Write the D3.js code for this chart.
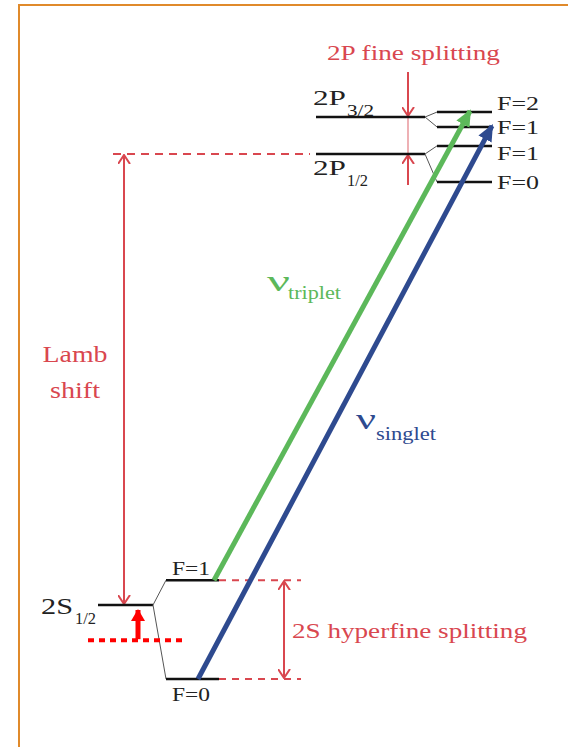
<!DOCTYPE html>
<html>
<head>
<meta charset="UTF-8">
<title>Hydrogen 2S-2P level scheme</title>
<script src="https://d3js.org/d3.v7.min.js"></script>
<style>
  body { margin: 0; background: #fff; }
  svg { display: block; }
  text { font-family: "Liberation Serif", "DejaVu Serif", serif; }
</style>
</head>
<body>
<svg width="568" height="747"></svg>
<script>
// fine-structure levels (energy in diagram units, Lamb shift = 100)
const fineNames = ["2S", "2P", "2P"];
const fineSubs = ["1/2", "1/2", "3/2"];
const fineEnergy = [0, 100, 108.2];

// hyperfine sublevels: parent index, F, energy
const hfParent = [0, 0, 1, 1, 2, 2];
const hfF = [1, 0, 1, 0, 2, 1];
const hfEnergy = [5.5, -16.4, 101.8, 93.8, 109.3, 106.0];

// laser transitions (from hf index -> to hf index)
const transNames = ["triplet", "singlet"];
const transFrom = [0, 1];
const transTo = [4, 5];
const transColor = ["#5cb85a", "#2e4a8f"];

// laser line under 2S1/2
const probeEnergy = -7.8;

const red = "#d9474f";
const svg = d3.select("svg");

const y = d3.scaleLinear().domain([0, 100]).range([605, 154]);

// column spans for S and P manifolds
const fineX = d3.scaleOrdinal().domain(["S", "P"]).range([[98, 153], [316, 425]]);
const hfX = d3.scaleOrdinal().domain(["S", "P"]).range([[166, 219], [437, 492]]);
const side = i => (fineNames[i] === "2S" ? "S" : "P");

// markers
const defs = svg.append("defs");
defs.append("marker").attr("id", "chev")
  .attr("viewBox", "0 -6 10 12").attr("refX", 9).attr("refY", 0)
  .attr("markerUnits", "userSpaceOnUse").attr("markerWidth", 10).attr("markerHeight", 13)
  .attr("orient", "auto-start-reverse")
  .append("path").attr("d", "M0,-6 L9,0 L0,6").attr("fill", "none")
  .attr("stroke", red).attr("stroke-width", 2);
transColor.forEach((c, i) => {
  defs.append("marker").attr("id", "tri" + i)
    .attr("viewBox", "0 -7 16 14").attr("refX", 14).attr("refY", 0)
    .attr("markerUnits", "userSpaceOnUse").attr("markerWidth", 17).attr("markerHeight", 15)
    .attr("orient", "auto")
    .append("path").attr("d", "M0,-7 L16,0 L0,7 Z").attr("fill", c);
});
defs.append("marker").attr("id", "redtri")
  .attr("viewBox", "0 -7 12 14").attr("refX", 11).attr("refY", 0)
  .attr("markerUnits", "userSpaceOnUse").attr("markerWidth", 12).attr("markerHeight", 14)
  .attr("orient", "auto")
  .append("path").attr("d", "M0,-7 L12,0 L0,7 Z").attr("fill", "#ff0000");

// orange frame
svg.append("path").attr("d", "M19,747 L19,5 L568,5")
  .attr("fill", "none").attr("stroke", "#e08a2b").attr("stroke-width", 2);

function txt(x, yy, s, size, len, color, anchor) {
  const t = svg.append("text").attr("x", x).attr("y", yy).text(s)
    .attr("font-size", size).attr("fill", color || "#222")
    .attr("text-anchor", anchor || "start");
  if (len) t.attr("textLength", len).attr("lengthAdjust", "spacingAndGlyphs");
  return t;
}

// Lamb shift dashed reference + arrow
svg.append("line").attr("x1", 113).attr("x2", 310).attr("y1", y(100)).attr("y2", y(100))
  .attr("stroke", red).attr("stroke-width", 2).attr("stroke-dasharray", "8,6");
svg.append("line").attr("x1", 124).attr("x2", 124).attr("y1", y(100) + 1).attr("y2", y(0) - 1)
  .attr("stroke", red).attr("stroke-width", 2)
  .attr("marker-start", "url(#chev)").attr("marker-end", "url(#chev)");
txt(75, 362, "Lamb", 23, 65, red, "middle");
txt(75, 398, "shift", 23, 50, red, "middle");

// 2P fine splitting arrows
const fx = 408;
svg.append("line").attr("x1", fx).attr("x2", fx).attr("y1", y(108.2) - 1).attr("y2", y(100) + 1)
  .attr("stroke", red).attr("stroke-width", 1.2).attr("opacity", 0.7);
svg.append("line").attr("x1", fx).attr("x2", fx).attr("y1", 72).attr("y2", y(108.2) - 1)
  .attr("stroke", red).attr("stroke-width", 2).attr("marker-end", "url(#chev)");
svg.append("line").attr("x1", fx).attr("x2", fx).attr("y1", 185).attr("y2", y(100) + 1)
  .attr("stroke", red).attr("stroke-width", 2).attr("marker-end", "url(#chev)");
txt(327, 60, "2P fine splitting", 21, 173, red);

// 2S hyperfine dashed lines + arrow
[5.5, -16.4].forEach(e => {
  svg.append("line").attr("x1", 219).attr("x2", 301).attr("y1", y(e)).attr("y2", y(e))
    .attr("stroke", red).attr("stroke-width", 2).attr("stroke-dasharray", "7,6");
});
svg.append("line").attr("x1", 284).attr("x2", 284).attr("y1", y(5.5) + 1).attr("y2", y(-16.4) - 1)
  .attr("stroke", red).attr("stroke-width", 2)
  .attr("marker-start", "url(#chev)").attr("marker-end", "url(#chev)");
txt(292, 638, "2S hyperfine splitting", 21, 235, red);

// fine levels
fineEnergy.forEach((e, i) => {
  const [x0, x1] = fineX(side(i));
  svg.append("line").attr("x1", x0).attr("x2", x1).attr("y1", y(e)).attr("y2", y(e))
    .attr("stroke", "#111").attr("stroke-width", 2.5);
});

// hyperfine levels + connectors
hfEnergy.forEach((e, i) => {
  const p = hfParent[i];
  const s = side(p);
  const [, fx1] = fineX(s);
  const [x0, x1] = hfX(s);
  svg.append("line").attr("x1", fx1).attr("y1", y(fineEnergy[p]))
    .attr("x2", x0).attr("y2", y(e)).attr("stroke", "#555").attr("stroke-width", 1);
  svg.append("line").attr("x1", x0).attr("x2", x1).attr("y1", y(e)).attr("y2", y(e))
    .attr("stroke", "#111").attr("stroke-width", 2.5);
});

// fine level labels
txt(313, 105, fineNames[2], 21, 33);
txt(347, 116, fineSubs[2], 16, 27);
txt(313, 175, fineNames[1], 21, 33);
txt(347, 186, fineSubs[1], 16, 21);
txt(41, 614, fineNames[0], 23, 32);
txt(75, 624, fineSubs[0], 16, 21);

// F labels
const fLabelPos = [[172, 575], [172, 701], [497, 160], [497, 189], [497, 110], [497, 134]];
hfF.forEach((f, i) => {
  txt(fLabelPos[i][0], fLabelPos[i][1], "F=" + f, 19, i < 2 ? 38 : 42);
});

// laser probe (dotted) + small arrow
svg.append("line").attr("x1", 88).attr("x2", 184).attr("y1", y(probeEnergy)).attr("y2", y(probeEnergy))
  .attr("stroke", "#ff0000").attr("stroke-width", 4).attr("stroke-dasharray", "6,5");
svg.append("line").attr("x1", 138).attr("x2", 138).attr("y1", y(probeEnergy) - 1).attr("y2", 610)
  .attr("stroke", "#ff0000").attr("stroke-width", 5).attr("marker-end", "url(#redtri)");

// transitions
const startX = [214, 198];
const endX = [470, 492];
transNames.forEach((n, i) => {
  svg.append("line")
    .attr("x1", startX[i]).attr("y1", y(hfEnergy[transFrom[i]]))
    .attr("x2", endX[i]).attr("y2", y(hfEnergy[transTo[i]]) - 1)
    .attr("stroke", transColor[i]).attr("stroke-width", 5)
    .attr("marker-end", "url(#tri" + i + ")");
});
txt(267, 291, "ν", 30, 23, transColor[0]);
txt(288, 299, "triplet", 19, 53, transColor[0]);
txt(356, 429, "ν", 30, 20, transColor[1]);
txt(376, 440, "singlet", 19, 60, transColor[1]);
</script>
</body>
</html>
